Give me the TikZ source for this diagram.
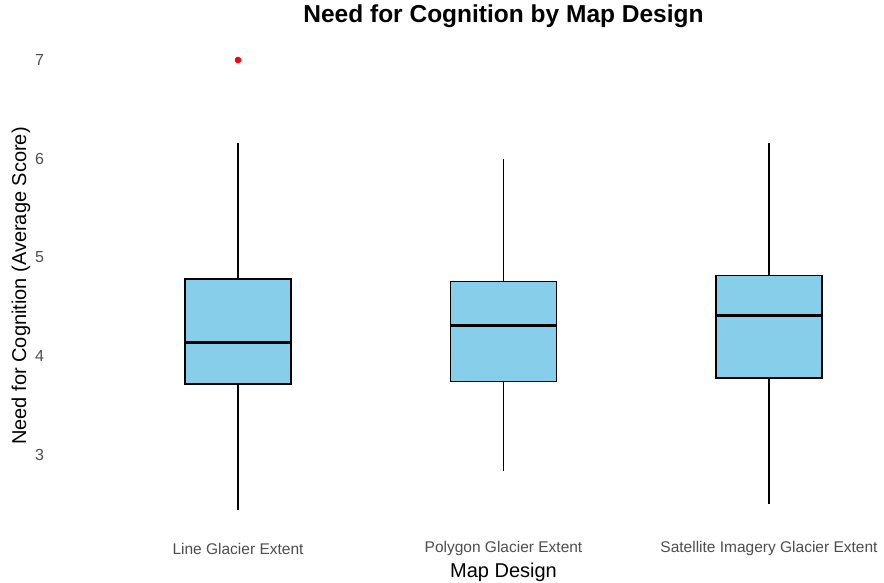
\documentclass[tikz,border=0pt]{standalone}
\usepackage{fontspec}
\setmainfont{Liberation Sans}
\usetikzlibrary{calc}
\definecolor{SkyBlue}{RGB}{135,206,235}
\definecolor{TickGray}{HTML}{4D4D4D}
\definecolor{DotRed}{RGB}{255,0,0}
\tikzset{
    tick/.style={anchor=east, text=TickGray, font=\fontsize{16}{16}\selectfont, inner sep=0pt},
    category/.style={text=TickGray, font=\fontsize{15.5}{16}\selectfont, inner sep=0pt},
    axistitle/.style={text=black, font=\fontsize{20}{20}\selectfont, inner sep=0pt},
}
% #1 position, #2 lower whisker, #3 lower quartile, #4 median, #5 upper quartile, #6 upper whisker
\NewDocumentCommand{\GlacierBox}{m m m m m m}{
    \draw[black, line width=1.5pt] (#1,#2) -- (#1,#3);
    \draw[black, line width=1.5pt] (#1,#5) -- (#1,#6);
    \draw[black, line width=1.5pt, fill=SkyBlue] (#1-0.2,#3) rectangle (#1+0.2,#5);
    \draw[black, line width=3.2pt] (#1-0.2,#4) -- (#1+0.2,#4);
}

\begin{document}
\begin{tikzpicture}
\useasboundingbox (0,0) rectangle (884pt,583pt);

\begin{scope}[shift={(-27.5pt,-168.25pt)}, x=265.5pt, y=98.75pt]
    \foreach \v in {3,...,7}
        \node[tick] (tick-\v) at (0.27,\v) {\v};

    \GlacierBox{1}{2.445}{3.72}{4.14}{4.78}{6.16}
    \GlacierBox{2}{2.84}{3.744}{4.31}{4.756}{6.0}
    \GlacierBox{3}{2.506}{3.778}{4.416}{4.817}{6.16}

    \fill[DotRed] (1,7) circle (3.3pt);

    \node[category] (cat-line) at (1,2.05) {Line Glacier Extent};
    \node[category] (cat-polygon) at (2,2.05) {Polygon Glacier Extent};
    \node[category] (cat-satellite) at (3,2.05) {Satellite Imagery Glacier Extent};
\end{scope}

\node[axistitle] (xtitle) at (503.5pt,11pt) {Map Design};
\node[axistitle, rotate=90] (ytitle) at (21pt,297pt) {Need for Cognition (Average Score)};
\node[axistitle, font=\fontsize{24.5}{24}\selectfont\bfseries] (title) at (503.5pt,567pt) {Need for Cognition by Map Design};

\end{tikzpicture}
\end{document}
